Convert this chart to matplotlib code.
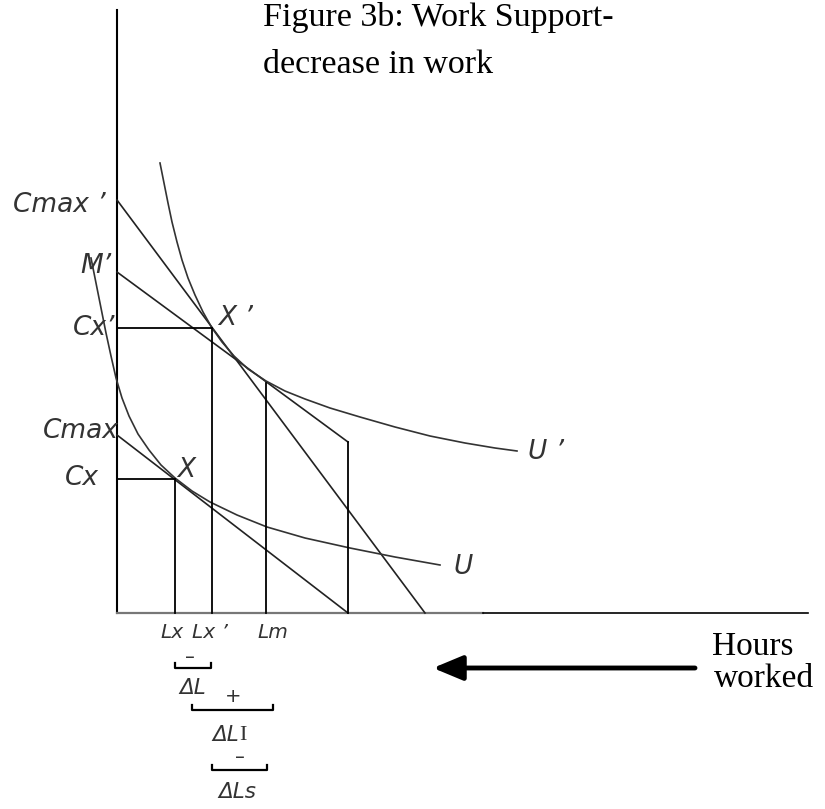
import matplotlib
matplotlib.use("Agg")
import matplotlib.pyplot as plt

#---------- diagram data (image pixel units) ----------

# axes
y_axis_x = 117
x_axis_y = 613
y_axis_top = 10
x_axis_end = 808

# budget lines: (x0, y0, x1, y1)
budget_cmax_prime = [117, 200, 425, 613]
budget_m_prime = [117, 272, 348, 442]
budget_cmax = [117, 435, 348, 613]

# indifference curve U' (upper)
u_prime_x = [160, 164, 168, 172, 177, 182, 188, 195, 203, 212, 222, 234, 248, 266, 285, 305, 330, 360, 395, 430, 465, 495, 517]
u_prime_y = [163, 183, 203, 222, 242, 260, 278, 295, 312, 328, 342, 356, 369, 381, 391, 399, 408, 417, 427, 436, 443, 448, 451]

# indifference curve U (lower)
u_x = [91, 96, 101, 106, 111, 116, 122, 129, 138, 149, 161, 175, 192, 210, 237, 267, 305, 350, 395, 440]
u_y = [258, 283, 308, 333, 356, 378, 398, 416, 434, 450, 465, 478, 491, 502, 515, 527, 538, 548, 557, 565]

# drop lines: verticals (x, y_top) down to the axis, horizontals (y, x_end) from the axis
vert_x = [175, 212, 266, 348]
vert_top = [479, 328, 383, 442]
horiz_y = [328, 479]
horiz_end = [212, 175]

# vertical axis labels
y_labels = ["Cmax \u2019", "M\u2019", "Cx\u2019", "Cmax", "Cx"]
y_label_pos = [(106, 205), (111, 266), (115, 328), (119, 431), (99, 478)]

# point / curve labels
pt_labels = ["X \u2019", "X", "U \u2019", "U"]
pt_label_pos = [(218, 318), (177, 470), (528, 452), (453, 567)]

# horizontal axis labels
x_labels = ["Lx", "Lx \u2019", "Lm"]
x_label_pos = [(172, 632), (210, 632), (273, 632)]

# change brackets: (x0, x1, y, sign, label, label pos)
brackets_x0 = [175, 192, 212]
brackets_x1 = [211, 273, 267]
brackets_y = [668, 710, 770]
bracket_sign = ["\u2013", "+", "\u2013"]
bracket_sign_pos = [(190, 657), (233, 697), (240, 757)]
bracket_label_pos = [(193, 688), (231, 735), (237, 792)]


#---------- draw ----------

fig = plt.figure(figsize=(8.25, 8.09), dpi=100)
ax = fig.add_axes([0, 0, 1, 1])
ax.set_xlim(0, 825)
ax.set_ylim(809, 0)
ax.axis("off")

line_col = "#222222"
label_font = dict(family="DejaVu Sans", style="italic", color="#333333")

# axes
ax.plot([y_axis_x, y_axis_x], [y_axis_top, x_axis_y], color="black", lw=1.5)
ax.plot([y_axis_x, 483], [x_axis_y, x_axis_y], color="#777777", lw=1.6)
ax.plot([483, x_axis_end], [x_axis_y, x_axis_y], color="black", lw=1.2)

# budget lines
for b in [budget_cmax_prime, budget_m_prime, budget_cmax]:
    ax.plot([b[0], b[2]], [b[1], b[3]], color=line_col, lw=1.2)

# indifference curves
ax.plot(u_prime_x, u_prime_y, color="#333333", lw=1.2)
ax.plot(u_x, u_y, color="#333333", lw=1.2)

# drop lines
for vx, vt in zip(vert_x, vert_top):
    ax.plot([vx, vx], [vt, x_axis_y], color="black", lw=1.3)
for hy, he in zip(horiz_y, horiz_end):
    ax.plot([y_axis_x, he], [hy, hy], color="black", lw=1.3)

# labels
for txt, (lx, ly) in zip(y_labels, y_label_pos):
    ax.text(lx, ly, txt, ha="right", va="center", fontsize=19, **label_font)
for txt, (lx, ly) in zip(pt_labels, pt_label_pos):
    ax.text(lx, ly, txt, ha="left", va="center", fontsize=19, **label_font)
for txt, (lx, ly) in zip(x_labels, x_label_pos):
    ax.text(lx, ly, txt, ha="center", va="center", fontsize=14.5, **label_font)

# brackets under the axis
for x0, x1, by in zip(brackets_x0, brackets_x1, brackets_y):
    ax.plot([x0, x0, x1, x1], [by - 5, by, by, by - 5], color="black", lw=1.6)
for s, (sx, sy) in zip(bracket_sign, bracket_sign_pos):
    ax.text(sx, sy, s, ha="center", va="center", fontsize=14, color="#333333")

ax.text(bracket_label_pos[0][0], bracket_label_pos[0][1], "\u0394L", ha="center", va="center", fontsize=15.5, **label_font)
ax.text(bracket_label_pos[1][0] + 8, bracket_label_pos[1][1], "\u0394L", ha="right", va="center", fontsize=15.5, **label_font)
ax.text(bracket_label_pos[1][0] + 8, bracket_label_pos[1][1], "I", ha="left", va="center", fontsize=16,
        family="Liberation Serif", color="#333333")
ax.text(bracket_label_pos[2][0], bracket_label_pos[2][1], "\u0394Ls", ha="center", va="center", fontsize=15.5, **label_font)

# title
ax.text(263, 26, "Figure 3b: Work Support-", ha="left", va="baseline", fontsize=24.5,
        family="Liberation Serif", color="black")
ax.text(263, 73, "decrease in work", ha="left", va="baseline", fontsize=24.5,
        family="Liberation Serif", color="black")

# hours worked arrow
ax.annotate("", xy=(433, 668), xytext=(695, 668),
            arrowprops=dict(arrowstyle="-|>,head_length=0.6,head_width=0.25",
                            lw=3.5, mutation_scale=30, color="black",
                            shrinkA=0, shrinkB=0))
ax.text(712, 655, "Hours", ha="left", va="baseline", fontsize=24, family="Liberation Serif")
ax.text(714, 687, "worked", ha="left", va="baseline", fontsize=24, family="Liberation Serif")

fig.savefig("out.png", dpi=100)
